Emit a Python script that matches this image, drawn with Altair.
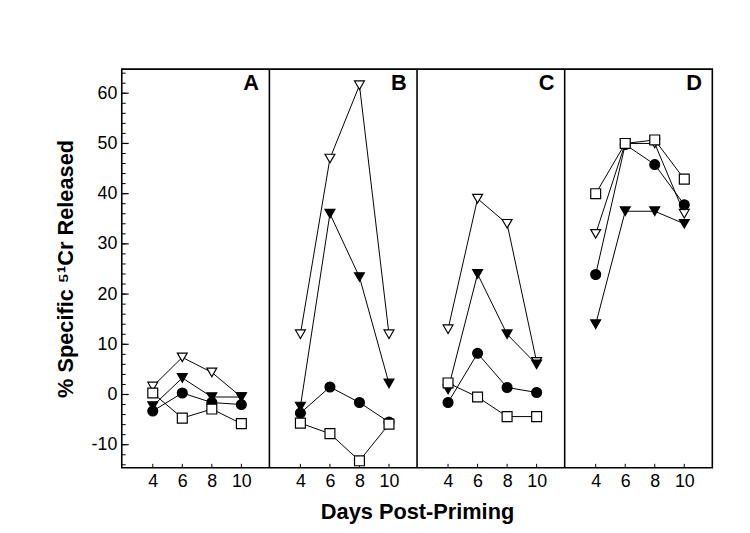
import altair as alt
import pandas as pd

days = [4, 6, 8, 10]
panels = ["A", "B", "C", "D"]
series_names = ["open triangle", "filled triangle", "filled circle", "open square"]

open_triangle = {"A": [1.6, 7.4, 4.4, -0.5], "B": [12, 47, 61.6, 12],
                 "C": [13, 39, 34, 6.5], "D": [32, 50, 50, 36]}
filled_triangle = {"A": [-2.3, 3.3, -0.5, -0.5], "B": [-2.4, 36, 23.4, 2.2],
                   "C": [1, 24, 12, 6], "D": [14, 36.5, 36.5, 34]}
filled_circle = {"A": [-3.3, 0.3, -1.6, -2.0], "B": [-3.7, 1.5, -1.6, -5.5],
                 "C": [-1.6, 8.2, 1.4, 0.4], "D": [23.9, 49.8, 45.8, 37.8]}
open_square = {"A": [0.3, -4.7, -2.9, -5.8], "B": [-5.7, -7.8, -13.2, -5.9],
               "C": [2.3, -0.5, -4.4, -4.4], "D": [40, 50, 50.7, 42.9]}

y_major = list(range(-10, 61, 10))
y_minor = list(range(-14, 65, 2))
x_tick_values = [d + 10 * i for i in range(len(panels)) for d in days]

rows = []
for name, vals in zip(series_names, [open_triangle, filled_triangle, filled_circle, open_square]):
    for p in panels:
        for d, v in zip(days, vals[p]):
            rows.append({"series": name, "panel": p, "day": d, "value": v})
df = pd.DataFrame(rows)

FONT = "Liberation Sans"
X_TITLE = "Days Post-Priming"
Y_TITLE = "% Specific ⁵¹Cr Released"
plist = "[" + ",".join("'%s'" % p for p in panels) + "]"
idx = "indexof(%s, datum.panel)" % plist

xs = alt.Scale(domain=[1.9, 41.9], nice=False, zero=False)
ys = alt.Scale(domain=[-14.6, 64.8], nice=False, zero=False)

x_axis = alt.Axis(values=x_tick_values, labelExpr="(datum.value - 2) % 10 + 2",
                  ticks=False, tickSize=0, domain=False, grid=False,
                  labelFont=FONT, labelFontSize=18, labelColor="black", labelPadding=5,
                  titleFont=FONT, titleFontSize=22, titleFontWeight="bold",
                  titleColor="black", titlePadding=11)
y_axis = alt.Axis(values=y_major,
                  labelExpr="datum.value < 0 ? '-' + abs(datum.value) : '' + datum.value",
                  ticks=False, tickSize=0, domain=False, grid=False,
                  labelFont=FONT, labelFontSize=18, labelColor="black", labelPadding=5,
                  titleFont=FONT, titleFontSize=22, titleFontWeight="bold",
                  titleColor="black", titlePadding=14)


def X(field):
    return alt.X(field, scale=xs, axis=x_axis, title=X_TITLE)


def Y(field):
    return alt.Y(field, scale=ys, axis=y_axis, title=Y_TITLE)


base = alt.Chart(df).transform_calculate(xpos="datum.day + 10 * " + idx)

lines = base.mark_line(color="black", strokeWidth=1).encode(
    x=X("xpos:Q"), y=Y("value:Q"),
    detail=["series:N", "panel:N"],
    order="day:Q",
)

points = base.mark_point(filled=True, size=100, stroke="black", strokeWidth=1.2, opacity=1).encode(
    x=X("xpos:Q"), y=Y("value:Q"),
    shape=alt.Shape("series:N", scale=alt.Scale(domain=series_names,
                    range=["triangle-down", "triangle-down", "circle", "square"]), legend=None),
    fill=alt.Fill("series:N", scale=alt.Scale(domain=series_names,
                  range=["white", "black", "black", "white"]), legend=None),
)

dividers = alt.Chart(pd.DataFrame({"panel": panels[1:]})).transform_calculate(
    edge="10 * " + idx + " + 1.9"
).mark_rule(color="black", strokeWidth=1.6).encode(x=X("edge:Q"))

letters = alt.Chart(pd.DataFrame({"panel": panels})).transform_calculate(
    lx="10 * " + idx + " + 11.2"
).mark_text(align="right", baseline="middle", font=FONT, fontSize=22,
            fontWeight="bold", color="black").encode(
    x=X("lx:Q"), y=alt.value(14), text="panel:N")

minor_ticks = alt.Chart(pd.DataFrame({"v": y_minor})).mark_rule(color="black", strokeWidth=1).encode(
    y=Y("v:Q"), x=alt.value(0), x2=alt.value(4))
major_ticks = alt.Chart(pd.DataFrame({"v": y_major})).mark_rule(color="black", strokeWidth=1.2).encode(
    y=Y("v:Q"), x=alt.value(0), x2=alt.value(7))
x_ticks = alt.Chart(pd.DataFrame({"t": x_tick_values})).mark_rule(color="black", strokeWidth=1).encode(
    x=X("t:Q"), y=alt.value(403), y2=alt.value(399))

chart = alt.layer(lines, minor_ticks, major_ticks, x_ticks, dividers, points, letters).properties(
    width=597, height=403,
    padding={"left": 115, "top": 59, "right": 30, "bottom": 55},
    autosize=alt.AutoSizeParams(type="none"),
    background="white",
).configure_view(stroke="black", strokeWidth=1.6)

chart.save("out.html", embed_options={"renderer": "svg", "actions": False})
